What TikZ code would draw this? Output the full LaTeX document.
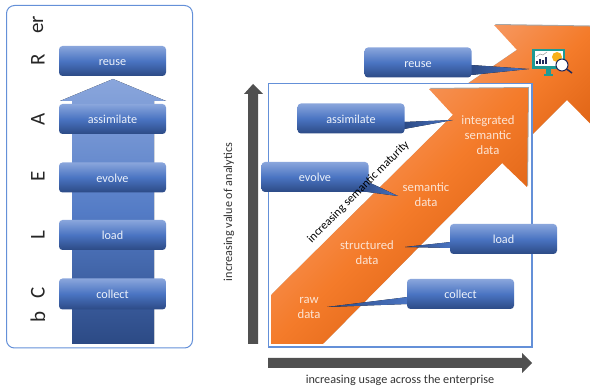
\documentclass[tikz,border=0pt]{standalone}
\usepackage{fontspec}
\setmainfont{Carlito}
\usetikzlibrary{shadows}
\definecolor{framecol}{HTML}{6490D8}
\definecolor{stepdark}{HTML}{2C4A85}
\definecolor{stepmid}{HTML}{4A74C2}
\definecolor{steplight}{HTML}{8AA6DC}
\definecolor{orangelight}{HTML}{F7A274}
\definecolor{orangemid}{HTML}{F47B2A}
\definecolor{orangedark}{HTML}{D65A0C}
\definecolor{axisgrey}{HTML}{505050}
\definecolor{peach}{HTML}{FCE4D4}
\definecolor{tealcol}{HTML}{1E9A94}
\definecolor{navycol}{HTML}{1F2A5C}
\tikzset{
  stepnode/.style={rounded corners=3.5, minimum width=107, minimum height=30, inner sep=0,
    text height=10, text depth=0.5,
    top color=steplight, bottom color=stepdark, middle color=stepmid,
    text=white!85!steplight, font=\fontsize{12.2}{12}\selectfont},
  tail/.style={left color=stepdark, right color=stepmid},
  orangebody/.style={left color=orangelight, right color=orangedark, middle color=orangemid,
    shading angle=45, drop shadow={shadow xshift=1, shadow yshift=-1, opacity=0.35, fill=black}},
  datalabel/.style={text=peach, align=center, font=\fontsize{12.7}{15}\selectfont, inner sep=0},
  axislabel/.style={text=black!80, inner sep=0, font=\fontsize{12.2}{12}\selectfont},
  letter/.style={rotate=90, inner sep=0, text=black!85, font=\fontsize{21}{21}\selectfont},
}
\def\steptail[#1](#2)(#3)(#4){\fill[tail] (#2) -- (#4) -- (#3) -- cycle;}
\begin{document}
\begin{tikzpicture}[x=1pt, y=-1pt]
	\useasboundingbox (0, 0) rectangle (590, 387);
	%%%%% LEFT PANEL %%%%%
	\draw[framecol, line width=1, rounded corners=8] (6.5, 5.5) rectangle (192.5, 348);
	\fill[top color=steplight, bottom color=stepdark, middle color=stepmid!85!steplight]
		(72, 344) -- (72, 101) -- (60, 101) -- (113, 79) -- (166, 101) -- (154, 101) -- (154, 344) -- cycle;

	\node[stepnode] (leftreuse) at (112.5, 61) {reuse};
	\node[stepnode] (leftassimilate) at (112.5, 119) {assimilate};
	\node[stepnode] (leftevolve) at (112.5, 177.5) {evolve};
	\node[stepnode] (leftload) at (112.5, 235) {load};
	\node[stepnode, minimum height=31] (leftcollect) at (112.5, 294) {collect};

	\node[letter] (letterer) at (38, 25) {er};
	\node[letter] (letterr) at (38, 60) {R};
	\node[letter] (lettera) at (38, 119) {A};
	\node[letter] (lettere) at (38, 176) {E};
	\node[letter] (letterl) at (38, 235) {L};
	\node[letter] (letterc) at (38, 293) {C};
	\node[letter] (letterb) at (38, 317) {b};

	%%%%% BIG ARROW AND BOX %%%%%
	\begin{scope}
		\clip (0, 0) rectangle (590, 387);
		\path[orangebody] (494, 25) -- (620, 27) -- (620, 154) -- (567, 100) -- (470, 197) -- (400, 130) -- (517, 50) -- cycle;
	\end{scope}
	\draw[framecol, line width=1.2, fill=white] (268.5, 83.5) rectangle (532, 347);
	\path[orangebody] (429, 89) -- (528, 88) -- (527, 187) -- (502, 163) -- (323, 344) -- (271, 344) -- (271, 295) -- (453, 115) -- cycle;

	%%%%% AXES %%%%%
	\fill[axisgrey] (248, 344) -- (248, 94) -- (244, 94) -- (253, 84) -- (263, 94) -- (258, 94) -- (258, 344) -- cycle;
	\fill[axisgrey] (268, 358) -- (522, 358) -- (522, 353) -- (532, 363) -- (522, 373) -- (522, 368) -- (268, 368) -- cycle;
	\node[axislabel, rotate=90] (valuelabel) at (229, 212) {increasing value of analytics};
	\node[axislabel] (usagelabel) at (400, 380) {increasing usage across the enterprise};

	%%%%% DATA LABELS %%%%%
	\node[datalabel] (integrated) at (488, 135) {integrated\\semantic\\data};
	\node[datalabel] (semantic) at (426, 195) {semantic\\data};
	\node[datalabel] (structured) at (367, 253) {structured\\data};
	\node[datalabel] (raw) at (309, 308) {raw\\data};

	%%%%% STEPS AND TAILS %%%%%
	\steptail[](471, 65)(471, 75)(529, 69);
	\steptail[](404, 122)(404, 129)(453, 120);
	\steptail[](366, 181)(360, 191)(398, 196);
	\steptail[](451, 242)(451, 248)(405, 247);
	\steptail[](408, 297)(408, 304)(327, 307);

	\node[stepnode] (reuse) at (418, 62.5) {reuse};
	\node[stepnode] (assimilate) at (351, 118.5) {assimilate};
	\node[stepnode] (evolve) at (315, 177) {evolve};
	\node[stepnode] (load) at (503.5, 239) {load};
	\node[stepnode] (collect) at (460.5, 294) {collect};

	\node[axislabel, rotate=45, text=black, font=\fontsize{11.8}{12}\selectfont] (maturitylabel) at (358.5, 192) {increasing semantic maturity};

	%%%%% ICON %%%%%
	\fill[tealcol] (532, 49) rectangle (565, 69);
	\fill[white] (534.5, 51.5) rectangle (562.5, 66.5);
	\fill[tealcol] (545.5, 69) rectangle (551, 74);
	\fill[tealcol] (544, 74) rectangle (553, 76);
	\foreach \x/\h in {535/3, 538/5, 541/4, 544/7} {
		\fill[navycol] (\x+1, 64) rectangle (\x+3, 64-\h);
	}
	\draw[black!40, line width=0.5] (536, 57) -- (540, 54) -- (543, 55) -- (547, 52);
	\fill[orangemid!60!yellow] (557, 57) circle (5);
	\fill[white] (562, 65) circle (6);
	\draw[navycol, line width=1] (562, 65) circle (6);
	\draw[navycol, line width=1.5] (566.5, 69) -- (572, 73);
\end{tikzpicture}
\end{document}
